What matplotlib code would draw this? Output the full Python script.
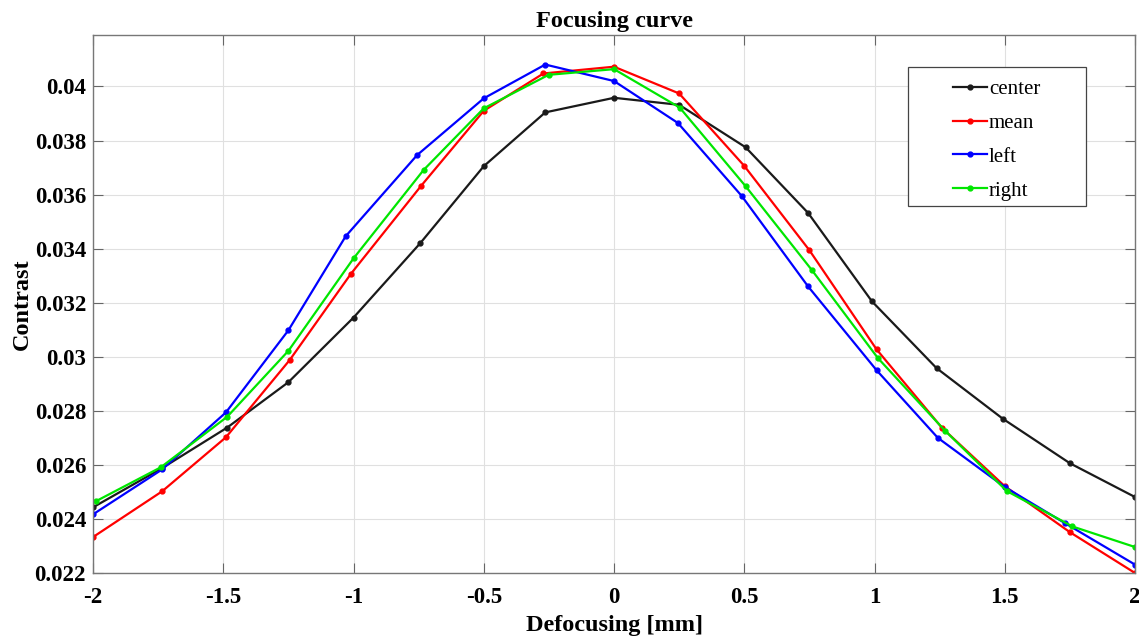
import matplotlib
matplotlib.use("Agg")
import matplotlib.pyplot as plt
from matplotlib.patches import Rectangle
from matplotlib.ticker import FuncFormatter

# defocus positions (mm) and contrast values
x_center = [-2, -1.735, -1.485, -1.25, -1.0, -0.744, -0.5, -0.264, 0.0, 0.25, 0.505, 0.745, 0.99, 1.238, 1.492, 1.75, 2.0]
center = [0.02443, 0.02588, 0.02738, 0.02906, 0.03145, 0.0342, 0.03705, 0.03904, 0.03958,
          0.03932, 0.03775, 0.03532, 0.03205, 0.02958, 0.02771, 0.02606, 0.02481]

x_mean = [-2, -1.735, -1.49, -1.245, -1.01, -0.74, -0.5, -0.271, 0.0, 0.25, 0.5, 0.75, 1.008, 1.259, 1.5, 1.75, 2.0]
mean = [0.02333, 0.02502, 0.02702, 0.02988, 0.03307, 0.03633, 0.0391, 0.04048, 0.04073,
        0.03974, 0.03706, 0.03394, 0.03027, 0.02737, 0.02521, 0.02351, 0.02200]

x_left = [-2, -1.735, -1.49, -1.25, -1.03, -0.756, -0.5, -0.264, 0.0, 0.245, 0.49, 0.745, 1.008, 1.243, 1.5, 1.73, 2.0]
left = [0.02417, 0.02583, 0.02794, 0.03098, 0.03446, 0.03746, 0.03956, 0.04081, 0.0402,
        0.03865, 0.03595, 0.0326, 0.0295, 0.027, 0.02518, 0.02385, 0.02231]

x_right = [-1.99, -1.74, -1.485, -1.25, -1.0, -0.731, -0.5, -0.251, 0.0, 0.252, 0.505, 0.76, 1.013, 1.27, 1.508, 1.76, 2.0]
right = [0.02465, 0.02591, 0.02778, 0.03022, 0.03364, 0.03691, 0.03919, 0.04043, 0.04064,
         0.03922, 0.03631, 0.0332, 0.02995, 0.02727, 0.02503, 0.02372, 0.02296]

x_ticks = [-2, -1.5, -1, -0.5, 0, 0.5, 1, 1.5, 2]
y_ticks = [0.022, 0.024, 0.026, 0.028, 0.03, 0.032, 0.034, 0.036, 0.038, 0.04]

plt.rcParams['font.family'] = ['Liberation Serif', 'DejaVu Serif']

fig = plt.figure(figsize=(11.39, 6.38), dpi=100)
ax = fig.add_axes([0.0817, 0.1019, 0.9148, 0.8431])

ax.plot(x_center, center, '.-', color='#1a1a1a', lw=1.6, ms=7, label='center')
ax.plot(x_mean, mean, '.-', color='#ff0000', lw=1.6, ms=7, label='mean')
ax.plot(x_left, left, '.-', color='#0000ff', lw=1.6, ms=7, label='left')
ax.plot(x_right, right, '.-', color='#00e600', lw=1.6, ms=7, label='right')

ax.set_xlim(-2, 2)
ax.set_ylim(0.022, 0.0419)
ax.set_xticks(x_ticks)
ax.set_yticks(y_ticks)
ax.xaxis.set_major_formatter(FuncFormatter(lambda v, p: '%g' % v))
ax.yaxis.set_major_formatter(FuncFormatter(lambda v, p: '%g' % round(v, 4)))
ax.tick_params(direction='in', top=True, right=True, length=7, width=0.8,
               color='#666666', labelsize=16.5)
ax.tick_params(axis='x', pad=10)
ax.tick_params(axis='y', pad=5)
for lab in ax.get_xticklabels() + ax.get_yticklabels():
    lab.set_fontweight('bold')
for sp in ax.spines.values():
    sp.set_color('#777777')
    sp.set_linewidth(1.0)
ax.grid(True, color='#e0e0e0', lw=0.8)
ax.set_axisbelow(True)

ax.set_xlabel('Defocusing [mm]', fontsize=17.5, fontweight='bold', labelpad=5)
ax.set_ylabel('Contrast', fontsize=17.5, fontweight='bold', labelpad=1.5)
ax.set_title('Focusing curve', fontsize=17.5, fontweight='bold', pad=6)

# legend box drawn separately so the padding can match the original
ax.add_patch(Rectangle((0.782, 0.6822), 0.1708, 0.2584, transform=ax.transAxes,
                       facecolor='white', edgecolor='#444444', lw=0.9, zorder=5))
leg = ax.legend(loc='center left', bbox_to_anchor=(0.8253, 0.8048), fontsize=15,
                frameon=False, handlelength=1.63, handletextpad=0.1,
                labelspacing=0.68, borderpad=0, borderaxespad=0)
leg.set_zorder(6)

fig.savefig('out.png', dpi=100)
